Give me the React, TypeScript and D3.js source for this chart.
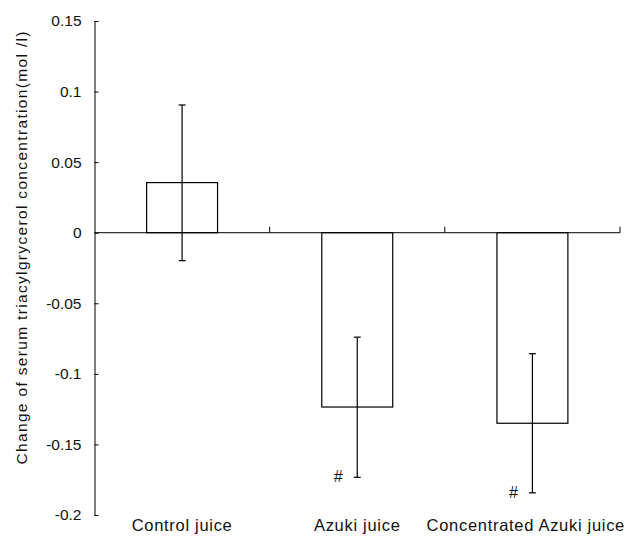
import React from "react";
import * as d3 from "d3";

const categories = ["Control juice", "Azuki juice", "Concentrated Azuki juice"];
const means = [0.0355, -0.1235, -0.135];
const errUpper = [0.0905, -0.074, -0.0857];
const errLower = [-0.0198, -0.1733, -0.1843];
const marks = ["", "#", "#"];
const yTicks = [0.15, 0.1, 0.05, 0, -0.05, -0.1, -0.15, -0.2];
const yTickLabels = ["0.15", "0.1", "0.05", "0", "-0.05", "-0.1", "-0.15", "-0.2"];
const yTitle = "Change of serum triacylgrycerol concentration(mol /l)";

const W = 627;
const H = 536;
const font = "'Liberation Sans', Arial, sans-serif";

export default function App() {
  const y = d3.scaleLinear().domain([-0.2, 0.15]).range([515, 21]);
  const x = d3.scaleBand<string>().domain(categories).range([94.5, 620]).padding(0);
  const bw = x.bandwidth() * 0.405;

  const yAxisRef = (el: SVGGElement | null) => {
    if (!el) return;
    const axis = d3
      .axisLeft(y)
      .tickValues(yTicks)
      .tickSizeInner(-4)
      .tickSizeOuter(0)
      .tickPadding(13)
      .tickFormat((d, i) => yTickLabels[i]);
    const g = d3.select(el).call(axis);
    g.select(".domain").attr("stroke", "#000");
    g.selectAll(".tick line").attr("stroke", "#000");
    g.selectAll(".tick text")
      .attr("fill", "#111")
      .style("font-family", font)
      .style("font-size", "15.5px");
  };

  // keep category labels inside the picture
  const labelRef = (el: SVGTextElement | null) => {
    if (!el) return;
    const w = el.getComputedTextLength();
    const cx = Number(el.getAttribute("data-cx"));
    const shifted = Math.min(cx, W - 2 - w / 2);
    el.setAttribute("x", String(shifted));
  };

  const zeroY = y(0);

  return (
    <div style={{ position: "absolute", left: 0, top: 0 }}>
      <svg width={W} height={H} style={{ display: "block", background: "#fff" }}>
        {/* bars */}
        {categories.map((c, i) => {
          const cx = (x(c) as number) + x.bandwidth() / 2;
          const top = Math.min(y(means[i]), zeroY);
          const h = Math.abs(y(means[i]) - zeroY);
          return (
            <rect
              key={c}
              x={cx - bw / 2}
              y={top}
              width={bw}
              height={h}
              fill="#fff"
              stroke="#000"
              strokeWidth={1.2}
            />
          );
        })}

        {/* zero line with category ticks */}
        <line x1={94.5} x2={620} y1={zeroY} y2={zeroY} stroke="#000" strokeWidth={1} />
        {categories.map((c) => {
          const bx = (x(c) as number) + x.bandwidth();
          return <line key={"t" + c} x1={bx} x2={bx} y1={zeroY - 6} y2={zeroY} stroke="#000" />;
        })}

        {/* error bars */}
        {categories.map((c, i) => {
          const cx = (x(c) as number) + x.bandwidth() / 2;
          return (
            <g key={"e" + c} stroke="#000" strokeWidth={1.2}>
              <line x1={cx} x2={cx} y1={y(errUpper[i])} y2={y(errLower[i])} />
              <line x1={cx - 3.5} x2={cx + 3.5} y1={y(errUpper[i])} y2={y(errUpper[i])} />
              <line x1={cx - 3.5} x2={cx + 3.5} y1={y(errLower[i])} y2={y(errLower[i])} />
            </g>
          );
        })}

        {/* significance marks */}
        {categories.map((c, i) =>
          marks[i] ? (
            <text
              key={"m" + c}
              x={(x(c) as number) + x.bandwidth() / 2 - 19}
              y={y(errLower[i]) + 5}
              textAnchor="middle"
              fontFamily={font}
              fontSize={16}
              fill="#111"
            >
              {marks[i]}
            </text>
          ) : null
        )}

        <g ref={yAxisRef} transform="translate(94.5,0)" />

        {/* category labels */}
        {categories.map((c) => {
          const cx = (x(c) as number) + x.bandwidth() / 2;
          return (
            <text
              key={"l" + c}
              ref={labelRef}
              data-cx={cx}
              x={cx}
              y={531}
              textAnchor="middle"
              fontFamily={font}
              fontSize={16.5}
              letterSpacing={0.7}
              fill="#111"
            >
              {c}
            </text>
          );
        })}

        <text
          transform="translate(27,248) rotate(-90)"
          textAnchor="middle"
          fontFamily={font}
          fontSize={15.5}
          textLength={433}
          lengthAdjust="spacing"
          fill="#111"
        >
          {yTitle}
        </text>
      </svg>
    </div>
  );
}
